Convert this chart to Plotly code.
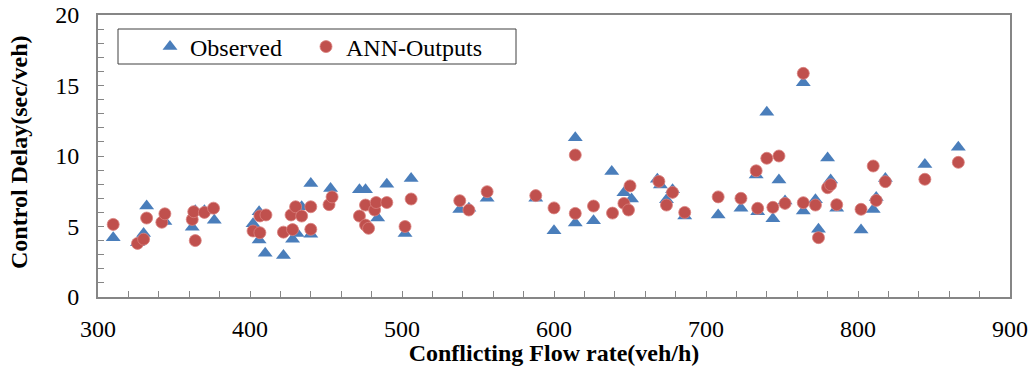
import plotly.graph_objects as go

obs_x = [310, 326, 330, 332, 344, 362, 364, 370, 376.5, 402, 406, 406, 410, 422,
         428, 431, 434, 440, 440, 453, 472, 476, 484, 490, 502, 506, 538, 544,
         556, 588, 600, 614, 614, 626, 638, 646, 651, 668, 670, 674, 678, 686,
         708, 723, 733, 734, 740, 744, 748, 752, 764, 764, 772, 774, 780, 782,
         786, 802, 810, 812, 818, 844, 866]
obs_y = [4.2, 3.85, 4.5, 6.45, 5.35, 4.95, 6.12, 6.12, 5.45, 5.2, 6.05, 4.05, 3.1, 2.95,
         4.1, 4.5, 6.4, 8.05, 4.45, 7.7, 7.6, 7.6, 5.6, 8.0, 4.5, 8.4, 6.2, 6.3,
         7.0, 7.0, 4.7, 11.3, 5.25, 5.4, 8.9, 7.4, 6.95, 8.35, 7.95, 6.9, 7.6, 5.75,
         5.82, 6.3, 8.65, 6.05, 13.1, 5.55, 8.3, 6.8, 15.2, 6.1, 6.9, 4.8, 9.85, 8.3,
         6.3, 4.75, 6.2, 7.05, 8.4, 9.4, 10.62]

ann_x = [310, 326, 330, 332, 342, 344, 362, 363, 364, 370, 376, 402, 406.5, 406.5,
         410.5, 422, 428, 427, 430, 434, 440, 440, 452, 454, 472, 476, 476, 478,
         482, 483, 490, 502, 506, 538, 544, 556, 588, 600, 614, 614, 626, 638.5,
         646, 649, 650, 669, 674, 678, 686, 708, 723, 733, 734, 740, 744, 748,
         752, 764, 764, 772, 774, 780, 782, 786, 802, 810, 812, 818, 844, 866]
ann_y = [5.15, 3.8, 4.1, 5.6, 5.3, 5.9, 5.5, 6.05, 4.0, 6.0, 6.3, 4.68, 4.56, 5.75,
         5.82, 4.6, 4.78, 5.82, 6.4, 5.74, 6.4, 4.8, 6.55, 7.1, 5.74, 6.52, 5.1, 4.87,
         6.17, 6.7, 6.7, 5.0, 6.95, 6.83, 6.17, 7.47, 7.19, 6.32, 10.07, 5.93, 6.45, 5.95,
         6.64, 6.17, 7.88, 8.2, 6.52, 7.42, 6.0, 7.1, 7.0, 8.95, 6.29, 9.84, 6.36, 10.0,
         6.64, 15.86, 6.69, 6.52, 4.21, 7.75, 7.96, 6.55, 6.22, 9.29, 6.85, 8.18, 8.35, 9.55]

x_title = "Conflicting Flow rate(veh/h)"
y_title = "Control Delay(sec/veh)"

W, H = 1031, 366
plot_l, plot_r, plot_t, plot_b = 98, 1010, 15, 297   # page pixels
ml, mt = plot_l, plot_t
mr, mb = W - plot_r, H - plot_b
pw = plot_r - plot_l
ph = plot_b - plot_t


def px_x(p):
    return (p - plot_l) / pw


def px_y(p):
    return (plot_b - p) / ph


serif = "Liberation Serif, Times New Roman, serif"
axis_grey = "#868686"
fs = 24

fig = go.Figure()
fig.add_trace(go.Scatter(
    x=obs_x, y=obs_y, mode="markers", name="Observed", legend="legend",
    marker=dict(symbol="triangle-up", size=13, color="#4A7EBB",
                line=dict(width=0))))
fig.add_trace(go.Scatter(
    x=ann_x, y=ann_y, mode="markers", name="ANN-Outputs", legend="legend2",
    marker=dict(symbol="circle", size=12, color="#C0504D",
                line=dict(width=0.8, color="#D9807E"))))

# legend box
fig.add_shape(type="rect", xref="paper", yref="paper",
              x0=px_x(118), x1=px_x(516), y0=px_y(64), y1=px_y(29),
              line=dict(color="#404040", width=1), fillcolor="white", layer="below")

# y axis title
fig.add_annotation(text="<b>" + y_title + "</b>", xref="paper", yref="paper",
                   x=px_x(19), y=px_y(152), xanchor="center", yanchor="middle",
                   textangle=-90, showarrow=False,
                   font=dict(family=serif, size=fs, color="black"))

leg_common = dict(orientation="h", xanchor="left", yanchor="middle",
                  bgcolor="rgba(0,0,0,0)", borderwidth=0, itemwidth=30,
                  font=dict(family=serif, size=fs, color="black"))

fig.update_layout(
    width=W, height=H,
    margin=dict(l=ml, r=mr, t=mt, b=mb, autoexpand=False),
    paper_bgcolor="white", plot_bgcolor="white",
    font=dict(family=serif, size=fs, color="black"),
    showlegend=True,
    legend=dict(x=px_x(150), y=px_y(47), **leg_common),
    legend2=dict(x=px_x(306), y=px_y(47), **leg_common),
    xaxis=dict(range=[300, 900], dtick=100, tick0=300, automargin=False,
               showline=True, mirror=True, linecolor=axis_grey, linewidth=2,
               ticks="inside", ticklen=6, tickcolor=axis_grey, tickwidth=1,
               minor=dict(dtick=20, ticks="inside", ticklen=6, tickcolor=axis_grey, tickwidth=1),
               showgrid=False, zeroline=False, ticklabelstandoff=9,
               ticklabeloverflow="allow",
               tickfont=dict(family=serif, size=fs, color="black"),
               title=dict(text="<b>" + x_title + "</b>", standoff=2,
                          font=dict(family=serif, size=fs, color="black"))),
    yaxis=dict(range=[0, 20], dtick=5, tick0=0, automargin=False,
               showline=True, mirror=True, linecolor=axis_grey, linewidth=2,
               ticks="inside", ticklen=6, tickcolor=axis_grey, tickwidth=1,
               minor=dict(dtick=1, ticks="inside", ticklen=6, tickcolor=axis_grey, tickwidth=1),
               showgrid=False, zeroline=False, ticklabelstandoff=12,
               ticklabeloverflow="allow",
               tickfont=dict(family=serif, size=fs, color="black")),
)

fig.write_html("out.html", config={"displayModeBar": False},
               post_script="document.body.style.margin='0';document.body.style.overflow='hidden';")
